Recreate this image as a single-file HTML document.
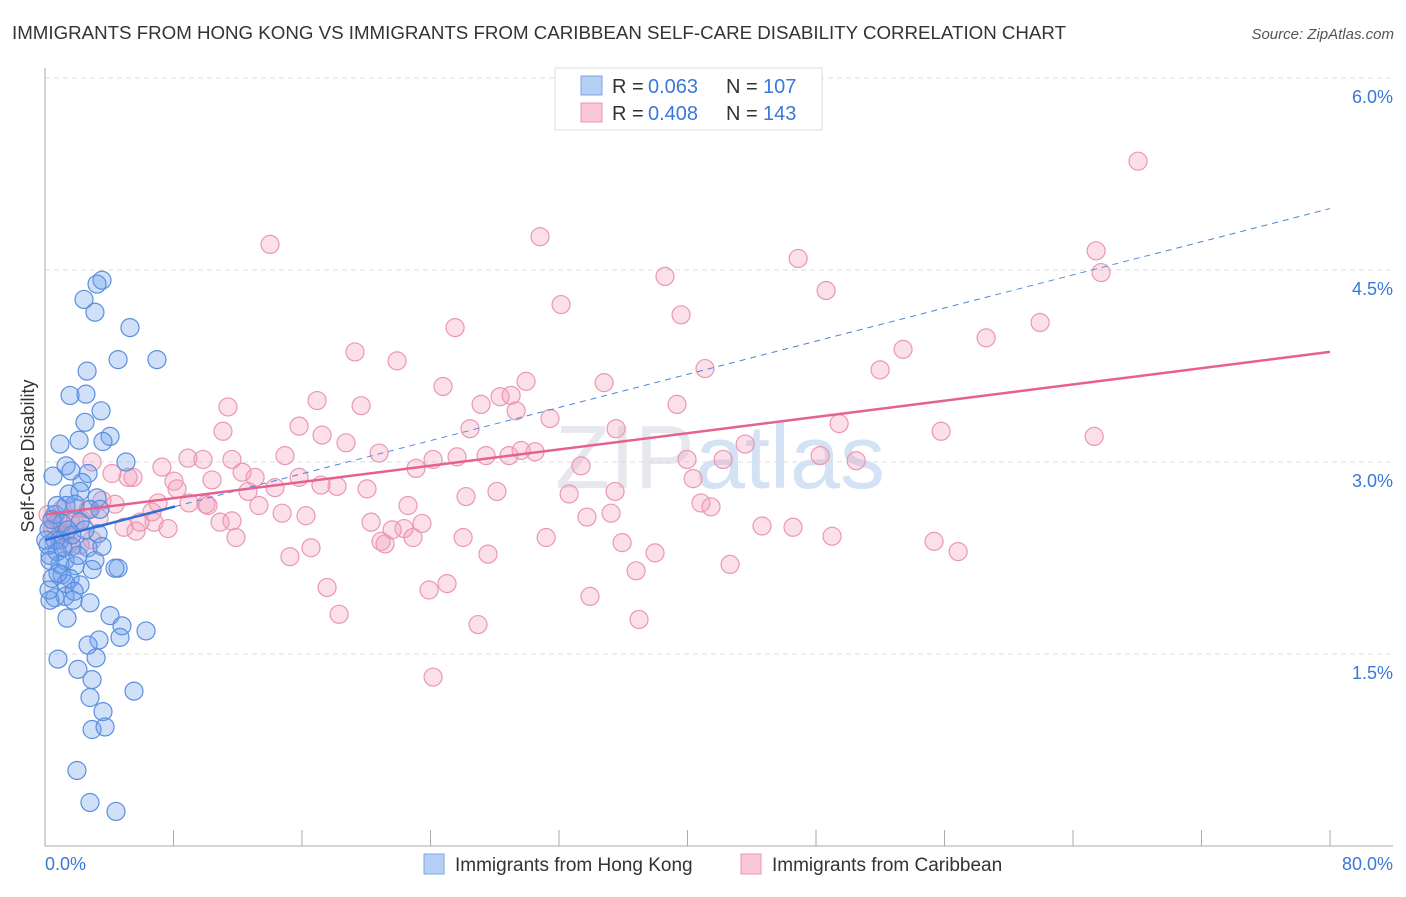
<!DOCTYPE html>
<html><head><meta charset="utf-8"><style>
body{margin:0;background:#fff;font-family:"Liberation Sans",sans-serif}
svg text{font-family:"Liberation Sans",sans-serif}
</style></head><body>
<svg id="c" width="1406" height="892" viewBox="0 0 1406 892">
<text x="12" y="39" font-size="18" fill="#333" textLength="1054" lengthAdjust="spacingAndGlyphs">IMMIGRANTS FROM HONG KONG VS IMMIGRANTS FROM CARIBBEAN SELF-CARE DISABILITY CORRELATION CHART</text>
<text x="1394" y="39" font-size="15" fill="#555" font-style="italic" text-anchor="end">Source: ZipAtlas.com</text>
<text x="720" y="488" font-size="90" fill="#e6e8ee" text-anchor="middle" font-family="Liberation Serif">ZIP<tspan fill="#d4e2f5" font-family="Liberation Sans">atlas</tspan></text>
<g id="grid"></g><g id="axes"></g><g id="pts"></g><g id="lines"></g>
<text transform="translate(34,456) rotate(-90)" font-size="18" fill="#333" text-anchor="middle">Self-Care Disability</text>
<g>
<rect x="555" y="68" width="267" height="62" fill="#fff" stroke="#ddd"/>
<rect x="581" y="76" width="21" height="19" fill="#b5cff5" stroke="#7aa6e6"/>
<text x="612" y="93" font-size="20" fill="#333">R =</text>
<text x="648" y="93" font-size="20" fill="#3a78d8">0.063</text>
<text x="726" y="93" font-size="20" fill="#333">N =</text>
<text x="763" y="93" font-size="20" fill="#3a78d8">107</text>
<rect x="581" y="103" width="21" height="19" fill="#f9c6d6" stroke="#eb97b3"/>
<text x="612" y="120" font-size="20" fill="#333">R =</text>
<text x="648" y="120" font-size="20" fill="#3a78d8">0.408</text>
<text x="726" y="120" font-size="20" fill="#333">N =</text>
<text x="763" y="120" font-size="20" fill="#3a78d8">143</text>
</g>
<g>
<rect x="424" y="854" width="20" height="20" fill="#b5cff5" stroke="#7aa6e6"/>
<text x="455" y="871" font-size="19" fill="#333">Immigrants from Hong Kong</text>
<rect x="741" y="854" width="20" height="20" fill="#f9c6d6" stroke="#eb97b3"/>
<text x="772" y="871" font-size="19" fill="#333">Immigrants from Caribbean</text>
</g>
<text x="45" y="870" font-size="18" fill="#3a78d8">0.0%</text>
<text x="1393" y="870" font-size="18" fill="#3a78d8" text-anchor="end">80.0%</text>
</svg>
<script>
const yTicks=[1.5,3.0,4.5,6.0];
const blueX=[3.55,3.24,2.43,3.11,5.29,4.55,6.97,2.62,1.56,2.55,3.49,2.49,0.93,2.12,4.05,3.61,1.31,5.04,1.62,0.50,2.68,2.30,1.49,2.18,3.24,0.62,1.31,1.87,2.80,1.06,2.18,3.30,0.25,0.93,1.68,2.68,3.55,0.31,1.25,1.87,2.93,0.44,1.06,1.56,4.55,4.36,0.62,1.25,1.74,2.80,0.31,4.05,4.79,6.29,3.36,4.67,2.68,0.81,3.18,2.05,2.93,2.80,5.54,3.61,2.93,3.74,1.99,2.80,4.42,0.62,0.75,0.19,0.93,1.31,2.18,0.25,1.43,2.49,0.75,3.42,0.31,1.12,1.68,0.05,0.44,2.05,3.11,0.81,1.81,1.37];
const blueY=[4.42,4.39,4.27,4.17,4.05,3.80,3.80,3.71,3.52,3.53,3.40,3.31,3.14,3.17,3.20,3.16,2.97,3.00,2.93,2.89,2.91,2.84,2.75,2.77,2.72,2.59,2.66,2.67,2.63,2.52,2.53,2.44,2.47,2.39,2.34,2.33,2.34,2.27,2.23,2.19,2.16,2.09,2.12,2.09,2.17,2.17,1.94,1.95,1.92,1.90,1.92,1.80,1.72,1.68,1.61,1.63,1.57,1.46,1.47,1.38,1.30,1.16,1.21,1.05,0.91,0.93,0.59,0.34,0.27,2.39,2.30,2.35,2.20,2.05,2.04,2.00,2.47,2.47,2.66,2.63,2.23,2.33,2.43,2.39,2.55,2.27,2.23,2.13,1.99,1.78];
const pinkX=[68.05,14.01,30.82,65.44,46.89,38.60,65.75,48.63,32.13,39.60,25.53,61.95,58.59,19.30,53.42,21.92,41.09,51.99,24.78,34.81,29.95,16.94,11.39,28.33,29.02,19.68,27.15,39.35,29.33,31.44,26.46,17.25,11.08,49.44,55.79,15.82,18.74,65.32,35.55,43.59,27.46,28.89,30.51,14.94,29.64,20.80,24.16,25.65,7.28,8.90,48.26,50.50,9.84,11.64,42.22,39.97,2.93,23.10,33.37,15.82,12.27,5.17,13.08,5.48,40.35,8.22,4.17,8.03,10.40,18.18,17.18,20.05,12.64,14.32,26.21,28.14,32.63,35.49,13.32,8.97,3.55,4.36,7.04,10.02,10.15,22.60,40.84,41.46,14.76,6.66,6.79,10.90,11.64,16.25,20.30,23.47,33.74,35.24,44.64,46.57,4.92,5.91,5.67,7.66,2.24,3.36,1.87,1.25,22.35,21.61,11.89,20.92,21.17,22.91,26.03,31.20,49.00,55.35,56.85,35.93,37.98,16.56,15.25,27.58,42.65,36.80,25.03,17.56,23.91,33.93,18.31,36.98,26.96,24.16,0.19,0.44,0.62,0.81,1.56,0.93,2.68,1.06,1.87,2.93,2.18,1.43];
const pinkY=[5.35,4.70,4.76,4.65,4.59,4.45,4.48,4.34,4.23,4.15,4.05,4.09,3.97,3.86,3.88,3.79,3.73,3.72,3.59,3.62,3.63,3.48,3.43,3.51,3.52,3.44,3.45,3.45,3.40,3.34,3.26,3.21,3.24,3.30,3.24,3.28,3.15,3.20,3.26,3.14,3.05,3.05,3.08,3.05,3.09,3.07,3.02,3.04,2.96,3.03,3.05,3.01,3.02,3.02,3.02,3.02,3.00,2.95,2.97,2.88,2.92,2.88,2.88,2.88,2.87,2.79,2.91,2.85,2.86,2.81,2.82,2.79,2.77,2.80,2.73,2.77,2.75,2.77,2.66,2.68,2.70,2.67,2.68,2.67,2.66,2.66,2.68,2.65,2.60,2.61,2.53,2.53,2.54,2.58,2.53,2.52,2.57,2.60,2.50,2.49,2.49,2.53,2.46,2.48,2.55,2.56,2.52,2.45,2.48,2.47,2.41,2.38,2.36,2.41,2.41,2.41,2.42,2.38,2.30,2.37,2.29,2.33,2.26,2.28,2.20,2.15,2.05,2.02,2.00,1.95,1.81,1.77,1.73,1.32,2.59,2.48,2.51,2.54,2.55,2.43,2.63,2.63,2.64,2.39,2.35,2.35];
const blueTrend=[2.39,4.98];
const pinkTrend=[2.59,3.86];
const blueSolidEnd=8.1;

const NS="http://www.w3.org/2000/svg";
const X0=45,X1=1330,YB=846,PXY=128;
const sx=v=>X0+v/80*(X1-X0);
const sy=v=>YB-v*PXY;
function mk(t,a,p){const e=document.createElementNS(NS,t);for(const k in a)e.setAttribute(k,a[k]);p.appendChild(e);return e;}
const grid=document.getElementById('grid'),axes=document.getElementById('axes'),pts=document.getElementById('pts'),lines=document.getElementById('lines');
yTicks.forEach(v=>{
 const l=mk('line',{x1:X0,x2:1393,y1:sy(v),y2:sy(v),stroke:'#ddd','stroke-dasharray':'5,4'},grid);
 
 
 const t=mk('text',{x:1393,y:sy(v)+25,'font-size':18,fill:'#3a78d8','text-anchor':'end'},grid);
 t.textContent=v.toFixed(1)+'%';
 
 
});
const ya=mk('line',{x1:X0,x2:X0,y1:68,y2:YB,stroke:'#aaa'},axes);


const xa=mk('line',{x1:X0,x2:1393,y1:YB,y2:YB,stroke:'#aaa'},axes);


for(let i=0;i<=10;i++){const tk=mk('line',{x1:sx(i*8),x2:sx(i*8),y1:YB-16,y2:YB,stroke:'#aaa'},axes);
 
 }
function dots(xs,ys,fill,stroke,name){xs.forEach((x,i)=>{
 const c=mk('circle',{cx:sx(x),cy:sy(ys[i]),r:9,fill:fill,stroke:stroke,'stroke-width':1.2},pts);
 
 });}
dots(pinkX,pinkY,'rgba(244,160,188,0.32)','#eb97b3','caribbean-point');
dots(blueX,blueY,'rgba(110,160,235,0.32)','#5a8fdf','hong-kong-point');
const bl=v=>blueTrend[0]+(blueTrend[1]-blueTrend[0])*v/80;
const pl=v=>pinkTrend[0]+(pinkTrend[1]-pinkTrend[0])*v/80;
const l1=mk('line',{x1:sx(blueSolidEnd),y1:sy(bl(blueSolidEnd)),x2:sx(80),y2:sy(bl(80)),stroke:'#4d86db','stroke-width':1,'stroke-dasharray':'6,5'},lines);


const l2=mk('line',{x1:sx(0),y1:sy(bl(0)),x2:sx(blueSolidEnd),y2:sy(bl(blueSolidEnd)),stroke:'#2f6fd6','stroke-width':2.5},lines);


const l3=mk('line',{x1:sx(0),y1:sy(pl(0)),x2:sx(80),y2:sy(pl(80)),stroke:'#e5628e','stroke-width':2.5},lines);


</script>
</body></html>
